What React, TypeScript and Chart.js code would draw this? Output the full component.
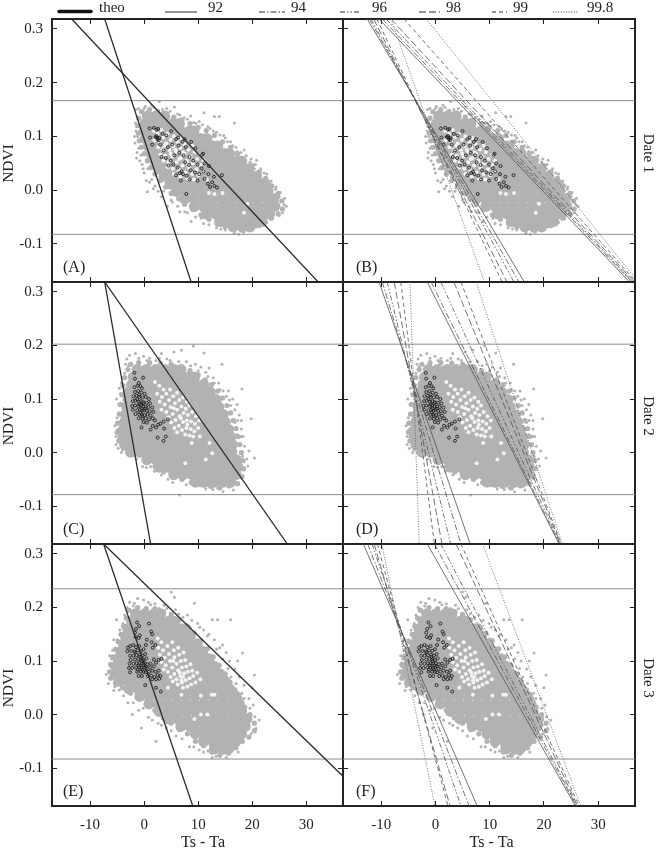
import React, { useEffect, useRef } from "react";
import { Chart, registerables } from "chart.js";

Chart.register(...registerables);

type Pt = [number, number];
type Row = [number, number[]];

const FONT = '"Liberation Serif", "Times New Roman", serif';
const INK = "#222222";
const GRAY = "#b2b2b2";

const X_MIN = -17.05;
const X_MAX = 36.8;
const Y_MIN = -0.1707;
const Y_MAX = 0.3186;

const xTickValues = [-10, 0, 10, 20, 30];
const yTickValues = [-0.1, 0, 0.1, 0.2, 0.3];
const yAxisTitle = "NDVI";
const xAxisTitle = "Ts - Ta";
const percentiles = ["92", "94", "96", "98", "99", "99.8"];
const theoLabel = "theo";
const dateLabels = ["Date 1", "Date 2", "Date 3"];
const panelLetters = ["(A)", "(B)", "(C)", "(D)", "(E)", "(F)"];

// Gray cloud: dense body, read by rows [NDVI, Ts-Ta values]
const cloud1Body: Row[] = [
  [0.138, [0.6, 2.2, 3.8]],
  [0.124, [0.2, 1.9, 3.6, 5.3, 6.5]],
  [0.11, [0, 1.6, 3.3, 5, 6.7, 8.4, 9.2]],
  [0.096, [0.2, 1.9, 3.6, 5.3, 7, 8.7, 10.4, 11.6]],
  [0.082, [0.8, 2.5, 4.2, 5.9, 7.6, 9.3, 11, 12.7, 13.6]],
  [0.068, [1.3, 3, 4.7, 6.4, 8.1, 9.8, 11.5, 13.2, 14.9, 15.8]],
  [0.054, [2, 3.7, 5.4, 7.1, 8.8, 10.5, 12.2, 13.9, 15.6, 17.3, 18]],
  [0.04, [2.7, 4.4, 6.1, 7.8, 9.5, 11.2, 12.9, 14.6, 16.3, 18, 19.4]],
  [0.026, [3.7, 5.4, 7.1, 8.8, 10.5, 12.2, 13.9, 15.6, 17.3, 19, 20.8]],
  [0.012, [4.8, 6.5, 8.2, 9.9, 11.6, 13.3, 15, 16.7, 18.4, 20.1, 21.8, 22.4]],
  [-0.002, [6, 7.7, 9.4, 11.1, 12.8, 14.5, 16.2, 17.9, 19.6, 21.3, 22.9]],
  [-0.016, [7.5, 9.2, 10.9, 12.6, 14.3, 16, 17.7, 19.4, 21.1, 22.8, 24]],
  [-0.03, [9.3, 11, 12.7, 14.4, 16.1, 17.8, 19.5, 21.2, 22.9, 24.2]],
  [-0.044, [11.5, 13.2, 14.9, 16.6, 18.3, 20, 21.7, 23.2]],
  [-0.058, [14, 15.7, 17.4, 19.1, 20.8, 21.8]],
  [-0.068, [16.5, 18.2, 19.6]],
];
const cloud2Body: Row[] = [
  [0.155, [-1.3, 0.4, 2.1, 3.8, 5.5, 6.8]],
  [0.141, [-2, -0.3, 1.4, 3.1, 4.8, 6.5, 8.2, 9.3]],
  [0.127, [-2.3, -0.6, 1.1, 2.8, 4.5, 6.2, 7.9, 9.6, 11]],
  [0.113, [-2.8, -1.1, 0.6, 2.3, 4, 5.7, 7.4, 9.1, 10.8, 12.2]],
  [0.099, [-3, -1.3, 0.4, 2.1, 3.8, 5.5, 7.2, 8.9, 10.6, 12.3, 13.3]],
  [0.085, [-3.2, -1.5, 0.2, 1.9, 3.6, 5.3, 7, 8.7, 10.4, 12.1, 13.8]],
  [0.071, [-3.4, -1.7, 0, 1.7, 3.4, 5.1, 6.8, 8.5, 10.2, 11.9, 13.6, 14.6]],
  [0.057, [-3.6, -1.9, -0.2, 1.5, 3.2, 4.9, 6.6, 8.3, 10, 11.7, 13.4, 15]],
  [0.043, [-3.8, -2.1, -0.4, 1.3, 3, 4.7, 6.4, 8.1, 9.8, 11.5, 13.2, 14.9, 15.6]],
  [0.029, [-3.9, -2.2, -0.5, 1.2, 2.9, 4.6, 6.3, 8, 9.7, 11.4, 13.1, 14.8, 16]],
  [0.015, [-3.6, -1.9, -0.2, 1.5, 3.2, 4.9, 6.6, 8.3, 10, 11.7, 13.4, 15.1, 16.3]],
  [0.001, [-2.5, -0.8, 0.9, 2.6, 4.3, 6, 7.7, 9.4, 11.1, 12.8, 14.5, 16.2]],
  [-0.013, [0.5, 2.2, 3.9, 5.6, 7.3, 9, 10.7, 12.4, 14.1, 15.8, 17]],
  [-0.027, [2.8, 4.5, 6.2, 7.9, 9.6, 11.3, 13, 14.7, 16.4, 17.3]],
  [-0.041, [5.5, 7.2, 8.9, 10.6, 12.3, 14, 15.7, 17]],
  [-0.055, [9.5, 11.2, 12.9, 14.6, 16]],
];
const cloud3Body: Row[] = [
  [0.188, [-1.6, 0.1, 1.8, 3]],
  [0.174, [-2.3, -0.6, 1.1, 2.8, 4.5, 5.6]],
  [0.16, [-3, -1.3, 0.4, 2.1, 3.8, 5.5, 7, 7.8]],
  [0.146, [-3.4, -1.7, 0, 1.7, 3.4, 5.1, 6.8, 8.5]],
  [0.132, [-3.8, -2.1, -0.4, 1.3, 3, 4.7, 6.4, 8.1, 9.8]],
  [0.118, [-4.3, -2.6, -0.9, 0.8, 2.5, 4.2, 5.9, 7.6, 9.3, 10.8]],
  [0.104, [-4.8, -3.1, -1.4, 0.3, 2, 3.7, 5.4, 7.1, 8.8, 10.5, 12]],
  [0.09, [-5.2, -3.5, -1.8, -0.1, 1.6, 3.3, 5, 6.7, 8.4, 10.1, 11.8, 13]],
  [0.076, [-5.4, -3.7, -2, -0.3, 1.4, 3.1, 4.8, 6.5, 8.2, 9.9, 11.6, 13.3, 14]],
  [0.062, [-4.7, -3, -1.3, 0.4, 2.1, 3.8, 5.5, 7.2, 8.9, 10.6, 12.3, 14, 15]],
  [0.048, [-2.8, -1.1, 0.6, 2.3, 4, 5.7, 7.4, 9.1, 10.8, 12.5, 14.2, 15.8]],
  [0.034, [-0.8, 0.9, 2.6, 4.3, 6, 7.7, 9.4, 11.1, 12.8, 14.5, 16.2, 17]],
  [0.02, [0.9, 2.6, 4.3, 6, 7.7, 9.4, 11.1, 12.8, 14.5, 16.2, 17.6]],
  [0.006, [2.8, 4.5, 6.2, 7.9, 9.6, 11.3, 13, 14.7, 16.4, 18]],
  [-0.008, [4.5, 6.2, 7.9, 9.6, 11.3, 13, 14.7, 16.4, 18.1, 19]],
  [-0.022, [6.8, 8.5, 10.2, 11.9, 13.6, 15.3, 17, 18.7]],
  [-0.036, [9.5, 11.2, 12.9, 14.6, 16.3, 18]],
  [-0.05, [11, 12.7, 14.4, 16.1, 17]],
  [-0.064, [13, 14.6, 15.6]],
];

// Gray cloud: points along its dense contour
const cloud1Edge: Pt[] = [
  [-0.5, 0.146], [1, 0.15], [2.5, 0.147], [4, 0.143], [5.5, 0.136], [7, 0.131], [8.5, 0.124], [10, 0.117], [11.5, 0.111], [13, 0.102],
  [14.5, 0.09], [16, 0.08], [17.3, 0.068], [18.6, 0.055], [20, 0.046], [21.3, 0.034], [22.5, 0.022], [23.6, 0.008], [24.8, -0.006], [25.5, -0.02],
  [25.6, -0.035], [24.8, -0.044], [23.5, -0.052], [22, -0.058], [20.8, -0.066], [19.4, -0.072], [18, -0.074], [16.5, -0.072], [15, -0.068], [13.5, -0.062],
  [12, -0.054], [10.5, -0.046], [9, -0.036], [7.5, -0.026], [6.4, -0.016], [5, -0.006], [4, 0.006], [3, 0.018], [2, 0.03], [1.2, 0.042],
  [0.6, 0.055], [0, 0.068], [-0.5, 0.08], [-0.9, 0.092], [-1.1, 0.106], [-1.2, 0.12], [-1, 0.134],
];
const cloud2Edge: Pt[] = [
  [-2.5, 0.165], [-1, 0.168], [1, 0.168], [3, 0.167], [5, 0.165], [7, 0.16], [8.5, 0.153], [10, 0.145], [11.3, 0.136], [12.5, 0.127],
  [13.6, 0.115], [14.5, 0.102], [15.3, 0.088], [16, 0.074], [16.5, 0.06], [17, 0.045], [17.4, 0.03], [17.7, 0.015], [18, 0], [18.3, -0.015],
  [18.4, -0.03], [18.1, -0.045], [17.3, -0.058], [15.8, -0.062], [14, -0.066], [12.3, -0.063], [10.5, -0.06], [8.7, -0.056], [7, -0.05], [5.3, -0.045],
  [3.6, -0.036], [2, -0.026], [0.5, -0.018], [-1, -0.004], [-2.4, 0.004], [-3.8, 0.012], [-4.7, 0.022], [-5, 0.038], [-4.9, 0.055], [-4.6, 0.072],
  [-4.4, 0.09], [-4.1, 0.108], [-3.9, 0.125], [-3.6, 0.14], [-3, 0.155],
];
const cloud3Edge: Pt[] = [
  [-2.8, 0.195], [-1.2, 0.2], [0.4, 0.198], [2, 0.198], [3.6, 0.192], [5, 0.187], [6.5, 0.177], [8, 0.165], [9.3, 0.152], [10.5, 0.138],
  [11.7, 0.123], [12.8, 0.108], [13.9, 0.092], [15, 0.076], [15.9, 0.06], [16.8, 0.046], [17.7, 0.03], [18.6, 0.014], [19.6, 0], [20.4, -0.016],
  [20.4, -0.03], [19.4, -0.042], [18.2, -0.05], [17, -0.062], [15.6, -0.072], [14, -0.076], [12.5, -0.07], [11, -0.058], [9.5, -0.05], [8, -0.036],
  [6.5, -0.028], [5, -0.016], [3.5, -0.006], [2, 0.008], [0.5, 0.018], [-1, 0.03], [-2.5, 0.04], [-4, 0.05], [-5.3, 0.058], [-6.2, 0.068],
  [-6.4, 0.08], [-6.2, 0.094], [-5.8, 0.108], [-5.3, 0.122], [-4.8, 0.136], [-4.3, 0.15], [-3.8, 0.165], [-3.3, 0.18],
];

// Gray cloud: isolated points on its rim
const cloud1Rim: Pt[] = [
  [-1.5, 0.15], [-1, 0.152], [0.2, 0.156], [1.4, 0.158], [2.8, 0.165], [4.2, 0.152], [5.6, 0.155], [6.2, 0.142],
  [7.4, 0.135], [8.6, 0.138], [9.2, 0.126], [10.2, 0.128], [11.1, 0.144], [11.8, 0.118], [13, 0.137], [13.9, 0.137],
  [13.4, 0.108], [14.7, 0.102], [15.4, 0.09], [16.7, 0.125], [16.4, 0.083], [17.2, 0.072], [18.5, 0.075], [18.4, 0.058],
  [19.6, 0.052], [20.8, 0.056], [20.4, 0.04], [21.3, 0.028], [22.2, 0.032], [22.6, 0.018], [23.5, 0.01], [24.3, 0.002],
  [25, -0.012], [25.9, -0.027], [25.6, -0.042], [25, -0.047], [23.8, -0.052], [22.7, -0.06], [21.4, -0.068], [19.8, -0.074],
  [18.4, -0.078], [16.7, -0.08], [15, -0.074], [13.4, -0.07], [11, -0.062], [10.6, -0.052], [8.7, -0.058], [8, -0.042],
  [6.6, -0.04], [5.2, -0.022], [4.3, -0.03], [3.2, -0.012], [2.6, -0.002], [1.7, 0.003], [0.6, -0.003], [1.4, 0.02],
  [0.4, 0.018], [0, 0.032], [0.7, 0.04], [-0.4, 0.048], [-1.4, 0.06], [-0.6, 0.065], [-1, 0.078], [-1.7, 0.088], [-1.2, 0.1], [-1.5, 0.11],
  [0, 0.152], [1.8, 0.154], [3.4, 0.15], [4.8, 0.147], [6.6, 0.14], [8, 0.132], [9.6, 0.124], [10.8, 0.122], [12.2, 0.115], [12.8, 0.11],
  [14, 0.103], [15, 0.097], [16, 0.09], [17, 0.08], [17.9, 0.07], [18.9, 0.064], [19.8, 0.058], [20.6, 0.048], [21.6, 0.04], [22.7, 0.03],
  [23.5, 0.017], [24.4, 0.006], [25.2, -0.004], [26, -0.015], [26.3, -0.03], [-1.6, 0.125], [-1.8, 0.1], [-1.3, 0.07], [-0.8, 0.055], [-0.2, 0.04],
  [1, 0.015], [2, 0.008], [3.6, -0.002], [5, -0.018], [6.2, -0.03], [7.5, -0.04], [9.5, -0.05], [12, -0.064], [14.2, -0.072], [17.5, -0.082],
];
const cloud2Rim: Pt[] = [
  [-2.7, 0.182], [-1.6, 0.185], [-3.2, 0.175], [1, 0.176], [-0.1, 0.18], [2.2, 0.172], [3.2, 0.185], [4.2, 0.175], [5.5, 0.188],
  [6.9, 0.191], [9.1, 0.199], [7.8, 0.17], [9.5, 0.165], [10.5, 0.16], [11.1, 0.186], [12, 0.158], [14.4, 0.165], [11.8, 0.142],
  [13, 0.13], [14, 0.118], [15.2, 0.105], [16, 0.088], [16.4, 0.1], [18.1, 0.119], [17.6, 0.07], [19.8, 0.063], [18, 0.044],
  [16.8, 0.056], [17.2, 0.034], [17.6, 0.015], [17.9, 0.03], [19.4, 0.003], [20.4, -0.01], [18.2, -0.007], [18.3, -0.032], [18, -0.048],
  [17.2, -0.059], [15.5, -0.064], [13.6, -0.066], [12.7, -0.069], [11, -0.063], [9, -0.06], [6.5, -0.079], [5.3, -0.056], [3.2, -0.042],
  [1.9, -0.035], [0.4, -0.028], [-0.3, -0.026], [-1.4, -0.012], [-3.3, 0], [-4, 0.005], [-4.8, 0.008], [-4.9, 0.043], [-5.2, 0.03],
  [-5, 0.065], [-4.7, 0.09], [-4.4, 0.11], [-4.2, 0.13], [-3.6, 0.148], [-3, 0.16],
  [-1, 0.176], [0.5, 0.172], [2.8, 0.176], [4.8, 0.172], [6.4, 0.17], [8.6, 0.162], [10, 0.153], [11.4, 0.15], [12.8, 0.14], [13.8, 0.13],
  [14.6, 0.115], [15.6, 0.115], [15.8, 0.098], [16.8, 0.08], [17.2, 0.09], [17.3, 0.06], [18, 0.06], [18.3, 0.03], [18.6, 0.012], [19, -0.012],
  [19.2, -0.025], [-3.4, 0.165], [-4.6, 0.12], [-5.1, 0.1], [-5.4, 0.05], [-5.2, 0.015], [-4.2, 0], [-2, -0.006], [1.2, -0.026], [4.4, -0.05],
  [7.8, -0.06], [11.4, -0.068], [14.6, -0.073], [16.5, -0.07],
];
const cloud3Rim: Pt[] = [
  [-5.1, 0.177], [-3.9, 0.17], [-3.6, 0.186], [-2.7, 0.21], [-2, 0.203], [-1.2, 0.217], [-0.1, 0.214], [1.2, 0.205], [2.8, 0.198],
  [3.7, 0.204], [5, 0.229], [5.6, 0.219], [5.8, 0.196], [7.2, 0.182], [8, 0.186], [9.3, 0.208], [9.9, 0.17], [11, 0.158], [11.7, 0.147],
  [12.6, 0.177], [13.6, 0.177], [14.5, 0.13], [13.4, 0.122], [14.6, 0.104], [16, 0.177], [15.5, 0.086], [16.1, 0.07], [17.3, 0.1],
  [18.2, 0.115], [17, 0.058], [18.1, 0.04], [18.5, 0.03], [20.4, 0.074], [20, 0.05], [19.6, 0.012], [20.5, -0.004], [21.3, -0.01],
  [20.7, -0.026], [19.8, -0.036], [18.2, -0.05], [16.4, -0.066], [14.8, -0.072], [13.3, -0.078], [11.8, -0.068], [10.2, -0.066], [8.4, -0.06],
  [5.9, -0.04], [4.1, -0.025], [2.2, -0.05], [2.6, -0.016], [0.8, -0.005], [-0.5, -0.025], [-1, 0.008], [-2.2, 0], [-3, 0.022], [-4.6, 0.046],
  [-5.4, 0.052], [-6.2, 0.07], [-6.6, 0.08], [-6.2, 0.09], [-6, 0.104], [-5.8, 0.12], [-5, 0.14], [-4.5, 0.158],
  [-3.2, 0.2], [-1.8, 0.208], [0.8, 0.21], [2, 0.207], [4.2, 0.198], [6.4, 0.188], [8.8, 0.176], [10.3, 0.163], [12, 0.15], [13, 0.14],
  [14, 0.125], [15.2, 0.116], [15.8, 0.1], [16.8, 0.085], [17.6, 0.07], [18.5, 0.055], [19.4, 0.03], [20.2, 0.018], [-5.6, 0.14], [-6.4, 0.11],
  [-7, 0.075], [-6.6, 0.058], [-5.6, 0.045], [-3.8, 0.035], [-2, 0.022], [-0.2, 0.012], [1.5, -0.01], [3.2, -0.02], [5, -0.03], [7, -0.045],
  [9.2, -0.06], [11, -0.07], [12.6, -0.08], [15.2, -0.08], [17.4, -0.07],
];

// White points
const white1: Pt[] = [
  [1.8, 0.11], [2.5, 0.105], [3.2, 0.112], [1.9, 0.093], [2.9, 0.09], [3.6, 0.098], [4.3, 0.105], [2.6, 0.08], [3.4, 0.076], [4.1, 0.087],
  [4.9, 0.094], [5.5, 0.1], [3, 0.066], [3.9, 0.064], [4.7, 0.075], [5.4, 0.082], [6.2, 0.09], [6.8, 0.097], [3.6, 0.055], [4.5, 0.052],
  [5.2, 0.063], [6, 0.071], [6.7, 0.079], [7.4, 0.086], [4.4, 0.043], [5.3, 0.04], [6, 0.052], [6.8, 0.06], [7.5, 0.068], [8.2, 0.076],
  [8.9, 0.083], [5.5, 0.03], [6.4, 0.038], [7.1, 0.046], [7.9, 0.055], [8.6, 0.063], [9.3, 0.071], [6.7, 0.025], [7.6, 0.033], [8.3, 0.042],
  [9, 0.05], [9.8, 0.058], [10.5, 0.066], [8, 0.022], [8.9, 0.03], [9.7, 0.039], [10.4, 0.047], [11, 0.055], [9.2, 0.02], [10.1, 0.028],
  [10.9, 0.036], [11.6, 0.02], [5.8, 0.075], [7.2, 0.07], [6.5, 0.058], [8.1, 0.049], [4.9, 0.068], [3.8, 0.083], [12, -0.005], [13, -0.007],
  [14.5, -0.005], [18.5, -0.042], [19.1, -0.025],
];
const white2: Pt[] = [
  [2, 0.132], [2.8, 0.125], [3.6, 0.118], [2.4, 0.11], [3.3, 0.104], [4.1, 0.11], [4.8, 0.118], [2.9, 0.095], [3.8, 0.09], [4.6, 0.098],
  [5.4, 0.105], [6.1, 0.112], [3.2, 0.08], [4.1, 0.076], [4.9, 0.085], [5.7, 0.092], [6.5, 0.098], [7.2, 0.103], [7.9, 0.095], [4.5, 0.066],
  [5.3, 0.072], [6.1, 0.08], [6.9, 0.086], [7.7, 0.082], [8.4, 0.088], [5, 0.056], [5.8, 0.061], [6.6, 0.068], [7.3, 0.074], [8.1, 0.07],
  [8.9, 0.076], [9.6, 0.068], [5.6, 0.046], [6.4, 0.05], [7.2, 0.057], [7.9, 0.06], [8.7, 0.058], [9.4, 0.054], [10.2, 0.06], [6.1, 0.038],
  [7, 0.042], [7.8, 0.046], [8.6, 0.044], [9.3, 0.04], [10, 0.046], [7.6, 0.034], [8.4, 0.032], [9.1, 0.03], [6.8, 0.064], [5.5, 0.083],
  [8, 0.052], [8.8, 0.018], [10.3, 0.03], [12.1, 0.018], [7.6, -0.02], [11.4, -0.013], [12.6, -0.001],
];
const white3: Pt[] = [
  [2.5, 0.142], [3.2, 0.135], [2.6, 0.125], [3.5, 0.12], [4.3, 0.128], [5.2, 0.135], [2.9, 0.112], [3.8, 0.106], [4.6, 0.113], [5.5, 0.12],
  [6.3, 0.125], [3.2, 0.098], [4, 0.092], [4.8, 0.1], [5.6, 0.107], [6.5, 0.112], [7.3, 0.116], [3.6, 0.084], [4.4, 0.08], [5.2, 0.088],
  [6, 0.095], [6.8, 0.1], [7.6, 0.102], [4.9, 0.07], [5.6, 0.076], [6.3, 0.083], [7, 0.088], [7.8, 0.09], [8.6, 0.094], [5.3, 0.062],
  [6, 0.066], [6.7, 0.072], [7.4, 0.077], [8.1, 0.08], [8.9, 0.082], [6.2, 0.056], [7, 0.06], [7.7, 0.064], [8.4, 0.068], [9.1, 0.072],
  [9.8, 0.078], [7.2, 0.05], [8, 0.052], [8.7, 0.056], [9.5, 0.06], [10.4, 0.066], [5.4, 0.1], [6.6, 0.078], [7.2, 0.07], [6.9, 0.064],
  [11.7, 0], [10.5, 0], [9.3, -0.008], [6.9, 0.037], [4.4, 0.05], [10.5, 0.035], [12.5, 0.037], [13, 0.037],
];

// Open black circles
const black1: Pt[] = [
  [1, 0.115], [1.8, 0.116], [2.3, 0.113], [2.6, 0.114], [2.1, 0.099], [2.4, 0.098], [2.5, 0.095], [2.7, 0.093], [2.3, 0.101], [2.8, 0.097],
  [1.1, 0.098], [1.5, 0.085], [3.4, 0.105], [4.1, 0.102], [5, 0.11], [5.9, 0.095], [7.1, 0.09], [3, 0.085], [3.6, 0.074], [4.4, 0.08],
  [5.2, 0.085], [6.4, 0.083], [7.7, 0.08], [8.7, 0.09], [3.2, 0.062], [4, 0.06], [4.9, 0.055], [5.6, 0.065], [6.5, 0.07], [7.3, 0.065],
  [8.4, 0.062], [9.5, 0.078], [10.7, 0.066], [4.5, 0.046], [5.4, 0.048], [6.2, 0.042], [6.9, 0.035], [7.6, 0.052], [8.3, 0.047], [9.1, 0.055],
  [9.9, 0.048], [10.6, 0.041], [11.2, 0.05], [5.9, 0.028], [6.6, 0.032], [7.2, 0.03], [7.9, 0.027], [8.6, 0.037], [9.4, 0.033], [10.2, 0.03],
  [11, 0.035], [12, 0.045], [11.9, 0.03], [12.9, 0.025], [14.4, 0.028], [6.8, 0.018], [8.4, 0.02], [9.9, 0.018], [11.8, 0.012], [12.6, 0.015],
  [12.2, 0.006], [13, 0.008], [13.5, 0.005], [11.2, 0.021], [7.8, -0.007], [10.9, 0.068], [7.5, 0.095], [6.3, 0.098],
];
const black2: Pt[] = [
  [-1.8, 0.122], [-1.2, 0.125], [-0.7, 0.124], [-0.4, 0.12], [-1.7, 0.113], [-1.1, 0.115], [-0.5, 0.112], [0.1, 0.11], [-2, 0.105], [-1.4, 0.106],
  [-0.9, 0.104], [-0.3, 0.103], [0.3, 0.104], [0.9, 0.1], [-2.1, 0.096], [-1.6, 0.097], [-1, 0.095], [-0.6, 0.096], [-0.1, 0.094], [0.5, 0.093],
  [1.1, 0.092], [-2.2, 0.087], [-1.7, 0.088], [-1.1, 0.087], [-0.6, 0.088], [-0.2, 0.086], [0.3, 0.086], [0.8, 0.085], [1.5, 0.084], [-2.1, 0.08],
  [-1.3, 0.079], [-0.8, 0.08], [-0.4, 0.078], [0, 0.079], [0.5, 0.078], [1, 0.077], [1.7, 0.076], [-1.6, 0.072], [-0.9, 0.071], [-0.4, 0.071],
  [0.1, 0.07], [0.6, 0.071], [1.2, 0.069], [-1, 0.064], [-0.3, 0.063], [0.3, 0.064], [0.9, 0.062], [1.6, 0.064], [-0.1, 0.057], [0.5, 0.056],
  [2, 0.06], [2.6, 0.052], [1.6, 0.05], [2.2, 0.047], [3, 0.054], [3.6, 0.058], [1.2, 0.043], [4.4, 0.062], [-1.8, 0.149], [-0.2, 0.14],
  [-1, 0.13], [-1.7, 0.138], [-0.5, 0.047], [2.5, 0.028], [3.6, 0.022], [4, 0.03], [3.7, 0.045],
  [-0.9, 0.09], [-0.5, 0.083], [-1.3, 0.1], [-0.2, 0.092], [-0.7, 0.075], [0.2, 0.082], [-0.9, 0.108], [-0.3, 0.068],
];
const black3: Pt[] = [
  [-1.3, 0.172], [-1.5, 0.16], [-0.9, 0.165], [-1.7, 0.153], [-0.8, 0.148], [-1.6, 0.145], [-1, 0.143], [0.9, 0.17], [1.3, 0.155], [1.5, 0.15],
  [0.5, 0.14], [1.4, 0.135], [1.6, 0.125], [0.3, 0.13], [2.1, 0.13], [-3, 0.125], [-2.6, 0.128], [-2, 0.13], [-1.5, 0.126], [-0.9, 0.128],
  [-3.1, 0.118], [-2.4, 0.119], [-1.8, 0.118], [-1.2, 0.12], [-0.6, 0.119], [-0.1, 0.122], [-2.6, 0.11], [-2, 0.11], [-1.4, 0.111], [-0.8, 0.112],
  [-0.3, 0.11], [0.2, 0.113], [-2.5, 0.102], [-1.7, 0.103], [-1.1, 0.104], [-0.6, 0.103], [-0.1, 0.102], [0.4, 0.105], [-2.7, 0.095], [-2, 0.095],
  [-1.4, 0.096], [-0.9, 0.096], [-0.4, 0.095], [0.1, 0.096], [0.6, 0.094], [1.2, 0.095], [-2.8, 0.087], [-2.2, 0.087], [-1.5, 0.088], [-0.9, 0.088],
  [-0.5, 0.087], [0, 0.088], [0.5, 0.086], [1.1, 0.088], [1.8, 0.09], [-2.6, 0.079], [-1.3, 0.08], [-0.6, 0.08], [-0.1, 0.08], [0.3, 0.079],
  [0.9, 0.08], [1.5, 0.082], [2.1, 0.08], [2.7, 0.082], [3.2, 0.104], [2.7, 0.102], [2.2, 0.097], [1.8, 0.103], [0.7, 0.072], [1.3, 0.073],
  [1.9, 0.07], [2.5, 0.074], [3, 0.072], [-1, 0.072], [-0.4, 0.072], [1.5, 0.066], [2.2, 0.066], [2.8, 0.067], [0.2, 0.055], [2.2, 0.05], [3.1, 0.043],
  [-1, 0.092], [-0.5, 0.1], [-1.2, 0.084], [-0.2, 0.092], [0.3, 0.09], [-0.7, 0.108], [-1.6, 0.116], [-0.3, 0.084],
];

// Horizontal NDVI limits per date [upper, lower]
const limits: Pt[] = [[0.1667, -0.082], [0.2025, -0.0785], [0.235, -0.083]];

// Theoretical edges per date: Ts-Ta at top and bottom of the plot
const theoCold: Pt[] = [[-7.3, 8.7], [-7.3, 1.2], [-7.5, 9.0]];
const theoWarm: Pt[][] = [
  [[-13.4, Y_MAX], [32.2, Y_MIN]],
  [[-7.3, Y_MAX], [26.5, Y_MIN]],
  [[-7.5, Y_MAX], [36.8, -0.115]],
];

// Percentile edges per date, order 92, 94, 96, 98, 99, 99.8: [x at top, x at bottom]
const coldDate1: Pt[] = [[-12.6, 16.4], [-12.2, 15.4], [-11.9, 14.5], [-11.4, 13.2], [-10.8, 12.3], [-8.2, 9]];
const warmDate1: Pt[] = [[-10.4, 35.8], [-9.8, 36.2], [-9.1, 36.4], [-8.2, 36.7], [-5.8, 37], [-1.7, 37.4]];
const coldDate2: Pt[] = [[-10.4, 6.4], [-9.8, 4.7], [-8.9, 2.8], [-7.6, 1.2], [-6.4, -0.2], [-4.7, -3]];
const warmDate2: Pt[] = [[-1.5, 22.8], [-0.8, 22.9], [1, 23], [3.4, 23.1], [4.7, 23.2], [7.5, 23.4]];
const coldDate3: Pt[] = [[-13.3, 7.7], [-12.5, 6.2], [-11.7, 4.7], [-11.3, 2.7], [-10.7, 2.3], [-9.9, -0.1]];
const warmDate3: Pt[] = [[-1.5, 25.8], [-0.2, 26], [1, 26.1], [3.8, 26.2], [4.7, 26.5], [8.7, 26.8]];

const dashes: number[][] = [[], [6, 2, 1.5, 2], [5, 2, 1.5, 2, 1.5, 2], [7, 3], [4, 3], [1, 1.6]];

const legendSamples = [
  { from: 165, to: 197, textX: 208 },
  { from: 259, to: 285, textX: 291 },
  { from: 340, to: 361, textX: 372 },
  { from: 419, to: 440, textX: 446 },
  { from: 492, to: 507, textX: 513 },
  { from: 553, to: 578, textX: 587 },
];

const expand = (rows: Row[]) => rows.flatMap(([y, xs]) => xs.map((x) => ({ x, y })));
const pts = (list: Pt[]) => list.map(([x, y]) => ({ x, y }));

const dates = [
  { body: cloud1Body, edge: cloud1Edge, rim: cloud1Rim, white: white1, black: black1, cold: coldDate1, warm: warmDate1 },
  { body: cloud2Body, edge: cloud2Edge, rim: cloud2Rim, white: white2, black: black2, cold: coldDate2, warm: warmDate2 },
  { body: cloud3Body, edge: cloud3Edge, rim: cloud3Rim, white: white3, black: black3, cold: coldDate3, warm: warmDate3 },
];

const PLOT_LEFT = 52;
const PLOT_MID = 343;
const PLOT_RIGHT = 635;
const ROW_EDGES = [19, 282, 544, 806];
const W = 657;
const H = 853;

function lineSet(data: { x: number; y: number }[], color: string, width: number, dash: number[] = []) {
  return {
    data,
    showLine: true,
    borderColor: color,
    borderWidth: width,
    borderDash: dash,
    pointRadius: 0,
    pointHoverRadius: 0,
    fill: false,
  };
}

function buildDatasets(row: number, isRight: boolean) {
  const d = dates[row];
  const sets: any[] = [
    { data: expand(d.body), backgroundColor: GRAY, borderWidth: 0, pointRadius: 5.6 },
    { data: pts(d.edge), backgroundColor: GRAY, borderWidth: 0, pointRadius: 2.6 },
    { data: pts(d.rim), backgroundColor: GRAY, borderWidth: 0, pointRadius: 1.5 },
    { data: pts(d.white), backgroundColor: "#f3f3f3", borderWidth: 0, pointRadius: 2 },
    { data: pts(d.black), backgroundColor: "rgba(0,0,0,0)", borderColor: "#1f1f1f", borderWidth: 0.9, pointRadius: 1.5 },
    lineSet([{ x: X_MIN, y: limits[row][0] }, { x: X_MAX, y: limits[row][0] }], "#8c8c8c", 1),
    lineSet([{ x: X_MIN, y: limits[row][1] }, { x: X_MAX, y: limits[row][1] }], "#8c8c8c", 1),
  ];
  if (!isRight) {
    sets.push(lineSet([{ x: theoCold[row][0], y: Y_MAX }, { x: theoCold[row][1], y: Y_MIN }], "#2b2b2b", 1.3));
    sets.push(lineSet(pts(theoWarm[row]), "#2b2b2b", 1.3));
  } else {
    percentiles.forEach((_, i) => {
      sets.push(lineSet([{ x: d.cold[i][0], y: Y_MAX }, { x: d.cold[i][1], y: Y_MIN }], "#505050", 0.8, dashes[i]));
      sets.push(lineSet([{ x: d.warm[i][0], y: Y_MAX }, { x: d.warm[i][1], y: Y_MIN }], "#505050", 0.8, dashes[i]));
    });
  }
  // Chart.js paints the first dataset last, so the order is turned round
  return sets.reverse();
}

function makeChart(canvas: HTMLCanvasElement, row: number, isRight: boolean) {
  const left = isRight ? PLOT_MID : PLOT_LEFT;
  const right = isRight ? PLOT_RIGHT : PLOT_MID;
  const top = ROW_EDGES[row];
  const bottom = ROW_EDGES[row + 1];
  const showX = row === 2;
  const showY = !isRight;

  const axisBase = (values: number[], size: number, fit: "w" | "h") => ({
    grid: { drawOnChartArea: false, drawTicks: true, tickLength: -5, tickColor: INK, tickWidth: 1 },
    border: { display: true, color: INK, width: 2 },
    afterBuildTicks: (axis: any) => {
      axis.ticks = values.map((value) => ({ value }));
    },
    afterFit: (axis: any) => {
      if (fit === "w") axis.width = size;
      else axis.height = size;
      axis.paddingTop = 0;
      axis.paddingBottom = 0;
      axis.paddingLeft = 0;
      axis.paddingRight = 0;
    },
  });
  const tickFont = { family: FONT, size: 15 };

  const annotate = {
    id: "panelText",
    afterDraw(chart: any) {
      const c = chart.ctx;
      c.save();
      c.fillStyle = INK;
      c.textBaseline = "middle";
      c.font = `16px ${FONT}`;
      c.textAlign = "left";
      c.fillText(panelLetters[row * 2 + (isRight ? 1 : 0)], left + (isRight ? 13 : 11), bottom - 14);
      if (showX) {
        c.textAlign = "center";
        c.fillText(xAxisTitle, isRight ? 491.5 : 203, 843);
      }
      if (showY) {
        c.save();
        c.translate(9, (top + bottom) / 2 + 13);
        c.rotate(-Math.PI / 2);
        c.textAlign = "center";
        c.font = `15.5px ${FONT}`;
        c.fillText(yAxisTitle, 0, 0);
        c.restore();
      }
      if (isRight) {
        c.save();
        c.translate(648, (top + bottom) / 2 + 3);
        c.rotate(Math.PI / 2);
        c.textAlign = "center";
        c.font = `15px ${FONT}`;
        c.fillText(dateLabels[row], 0, 0);
        c.restore();
      }
      if (row === 0 && !isRight) {
        c.font = `15px ${FONT}`;
        c.textAlign = "left";
        c.strokeStyle = "#111111";
        c.lineCap = "round";
        c.lineWidth = 3.5;
        c.beginPath();
        c.moveTo(59, 11.5);
        c.lineTo(91, 11.5);
        c.stroke();
        c.fillText(theoLabel, 99, 8.5);
        c.lineCap = "butt";
        c.lineWidth = 1;
        c.strokeStyle = "#2a2a2a";
        percentiles.forEach((label, i) => {
          const s = legendSamples[i];
          c.setLineDash(dashes[i]);
          c.beginPath();
          c.moveTo(s.from, 12);
          c.lineTo(s.to, 12);
          c.stroke();
          c.setLineDash([]);
          c.fillText(label, s.textX, 8.5);
        });
      }
      c.restore();
    },
  };

  return new Chart(canvas, {
    type: "scatter",
    data: { datasets: buildDatasets(row, isRight) },
    plugins: [annotate],
    options: {
      responsive: false,
      animation: false,
      devicePixelRatio: 1,
      layout: {
        padding: {
          left: showY ? 0 : left,
          right: W - right,
          top,
          bottom: showX ? 0 : H - bottom,
        },
      },
      plugins: { legend: { display: false }, tooltip: { enabled: false } },
      scales: {
        x: {
          type: "linear",
          position: "bottom",
          min: X_MIN,
          max: X_MAX,
          ...axisBase(xTickValues, showX ? H - bottom : 0, "h"),
          ticks: { display: showX, autoSkip: false, maxRotation: 0, padding: 15, color: INK, font: tickFont, callback: (v: any) => String(v) },
        },
        xTop: {
          type: "linear",
          position: "top",
          min: X_MIN,
          max: X_MAX,
          ...axisBase(xTickValues, 0, "h"),
          ticks: { display: false },
        },
        y: {
          type: "linear",
          position: "left",
          min: Y_MIN,
          max: Y_MAX,
          ...axisBase(yTickValues, showY ? left : 0, "w"),
          ticks: { display: showY, autoSkip: false, padding: 14, color: INK, font: tickFont, callback: (v: any) => Number(v).toFixed(1) },
        },
        yRight: {
          type: "linear",
          position: "right",
          min: Y_MIN,
          max: Y_MAX,
          ...axisBase(yTickValues, 0, "w"),
          ticks: { display: false },
        },
      },
    } as any,
  } as any);
}

const panels: [number, boolean][] = [
  [0, false], [0, true], [1, false], [1, true], [2, false], [2, true],
];

export default function App() {
  const refs = useRef<(HTMLCanvasElement | null)[]>([]);
  useEffect(() => {
    const charts = panels.map(([row, isRight], i) => makeChart(refs.current[i] as HTMLCanvasElement, row, isRight));
    return () => charts.forEach((c) => c.destroy());
  }, []);
  return (
    <div style={{ position: "fixed", left: 0, top: 0, width: W, height: H, background: "#fff", overflow: "hidden" }}>
      {panels.map((_, i) => (
        <canvas
          key={i}
          ref={(el) => {
            refs.current[i] = el;
          }}
          width={W}
          height={H}
          style={{ position: "absolute", left: 0, top: 0, width: W, height: H }}
        />
      ))}
    </div>
  );
}
